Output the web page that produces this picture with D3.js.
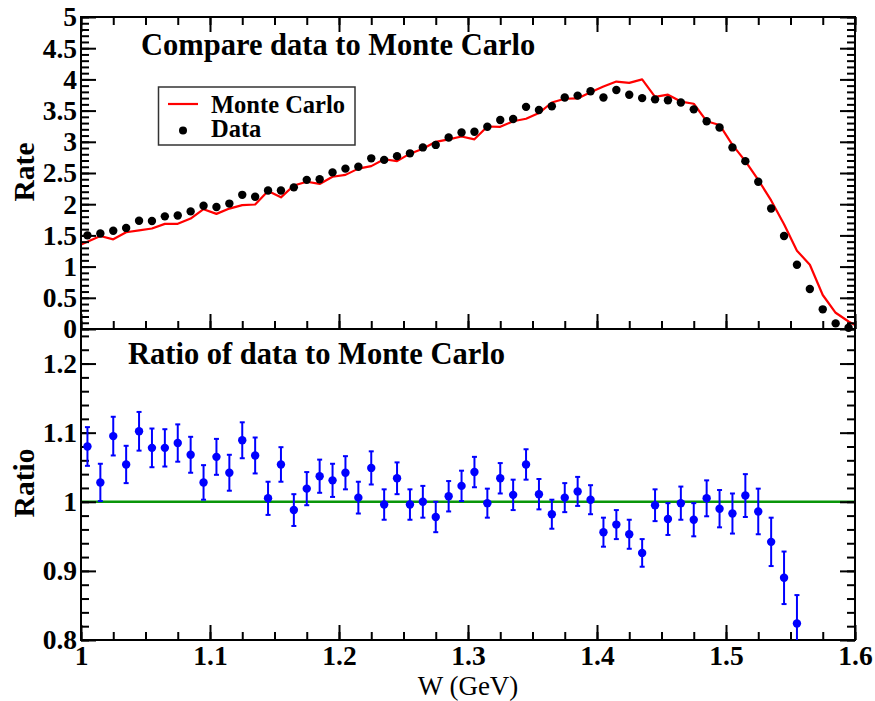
<!DOCTYPE html>
<html><head><meta charset="utf-8">
<script src="https://cdn.jsdelivr.net/npm/d3@7"></script>
<style>
body{margin:0;background:#fff}
svg{display:block}
text{font-family:"Liberation Serif","Times New Roman",serif}
</style>
</head><body>
<svg id="c" width="875" height="701"></svg>
<script>
// ---- data ----
const W = [1.005,1.015,1.025,1.035,1.045,1.055,1.065,1.075,1.085,1.095,
           1.105,1.115,1.125,1.135,1.145,1.155,1.165,1.175,1.185,1.195,
           1.205,1.215,1.225,1.235,1.245,1.255,1.265,1.275,1.285,1.295,
           1.305,1.315,1.325,1.335,1.345,1.355,1.365,1.375,1.385,1.395,
           1.405,1.415,1.425,1.435,1.445,1.455,1.465,1.475,1.485,1.495,
           1.505,1.515,1.525,1.535,1.545,1.555,1.565,1.575,1.585,1.595];
const dataRate = [1.50,1.53,1.575,1.62,1.735,1.73,1.805,1.82,1.885,1.975,
                  1.955,2.01,2.15,2.12,2.22,2.22,2.27,2.39,2.40,2.51,
                  2.57,2.60,2.735,2.71,2.77,2.815,2.91,2.95,3.07,3.15,
                  3.16,3.24,3.35,3.365,3.56,3.51,3.57,3.71,3.74,3.81,
                  3.71,3.83,3.755,3.70,3.68,3.665,3.63,3.52,3.33,3.23,
                  2.91,2.69,2.36,1.93,1.49,1.03,0.64,0.315,0.09,0.02];
// Monte Carlo curve: bin centres plus one point beyond each edge (clipped)
const mcFirstW = 0.995, mcLastW = 1.605;
const mcRate = [1.31,
                1.40,1.49,1.437,1.55,1.58,1.61,1.685,1.685,1.77,1.92,
                1.845,1.93,1.985,1.995,2.21,2.11,2.30,2.36,2.325,2.44,
                2.47,2.57,2.61,2.72,2.69,2.81,2.89,3.00,3.04,3.085,
                3.04,3.245,3.24,3.33,3.37,3.46,3.63,3.69,3.695,3.795,
                3.885,3.965,3.945,4.00,3.72,3.755,3.645,3.61,3.33,3.27,
                2.95,2.69,2.39,2.06,1.68,1.255,1.03,0.545,0.26,0.12,
                0.01];
const ratio = [1.080,1.028,1.095,1.054,1.102,1.078,1.078,1.085,1.068,1.028,
               1.065,1.042,1.089,1.067,1.005,1.054,0.988,1.019,1.037,1.031,
               1.042,1.006,1.049,0.996,1.034,0.996,1.000,0.978,1.008,1.023,
               1.043,0.998,1.034,1.010,1.054,1.011,0.982,1.006,1.015,1.003,
               0.956,0.967,0.953,0.926,0.995,0.975,0.998,0.974,1.005,0.990,
               0.983,1.009,0.986,0.942,0.890,0.824];
const ratioErr = [0.028,0.027,0.028,0.027,0.028,0.028,0.027,0.027,0.026,0.025,
                  0.026,0.026,0.026,0.026,0.024,0.025,0.023,0.024,0.024,0.024,
                  0.024,0.023,0.024,0.022,0.023,0.022,0.023,0.022,0.022,0.022,
                  0.022,0.021,0.022,0.022,0.022,0.022,0.021,0.021,0.021,0.021,
                  0.021,0.021,0.021,0.020,0.023,0.023,0.024,0.024,0.026,0.027,
                  0.029,0.031,0.033,0.035,0.038,0.041];
const xTicks = [1,1.1,1.2,1.3,1.4,1.5,1.6];
const rateTicks = [0,0.5,1,1.5,2,2.5,3,3.5,4,4.5,5];
const ratioTicks = [0.8,0.9,1,1.1,1.2];

// ---- layout ----
const L=81, R=855, T1=17, B1=329, T2=329, B2=640;
const svg = d3.select('#c');
const x  = d3.scaleLinear().domain([1,1.6]).range([L,R]);
const y1 = d3.scaleLinear().domain([0,5]).range([B1,T1]);
const y2 = d3.scaleLinear().domain([0.8,1.25]).range([B2,T2]);

const defs = svg.append('defs');
defs.append('clipPath').attr('id','clip1').append('rect').attr('x',L).attr('y',T1).attr('width',R-L).attr('height',B1-T1);
defs.append('clipPath').attr('id','clip2').append('rect').attr('x',L).attr('y',T2).attr('width',R-L).attr('height',B2-T2);

const FONT = '"Liberation Serif","Times New Roman",serif';

// ---- top panel marks ----
const mcPts = [[mcFirstW, mcRate[0]]].concat(W.map((w,i)=>[w, mcRate[i+1]])).concat([[mcLastW, mcRate[mcRate.length-1]]]);
svg.append('path').attr('clip-path','url(#clip1)')
  .datum(mcPts)
  .attr('d', d3.line().x(d=>x(d[0])).y(d=>y1(d[1])))
  .attr('fill','none').attr('stroke','#ff0000').attr('stroke-width',2.2).attr('stroke-linejoin','round');

// ---- bottom panel reference line ----
svg.append('path').attr('clip-path','url(#clip2)')
  .datum([[1,1],[1.6,1]])
  .attr('d', d3.line().x(d=>x(d[0])).y(d=>y2(d[1])))
  .attr('stroke','#0a960a').attr('stroke-width',2.5).attr('fill','none');

// ---- axes ----
function drawAxis(orient, scale, pos, major, minor, labels){
  const make = {left:d3.axisLeft, right:d3.axisRight, top:d3.axisTop, bottom:d3.axisBottom}[orient];
  const tr = (orient==='left'||orient==='right') ? `translate(${pos},0)` : `translate(0,${pos})`;
  const gMin = svg.append('g').attr('transform',tr)
    .call(make(scale).tickValues(minor).tickSize(-8).tickSizeOuter(0).tickFormat(''));
  const gMaj = svg.append('g').attr('transform',tr)
    .call(make(scale).tickValues(major).tickSize(-15).tickSizeOuter(0).tickPadding(orient==='bottom'?5:4)
      .tickFormat(labels ? d3.format('~g') : ''));
  [gMin,gMaj].forEach(g=>{
    g.select('.domain').remove();
    g.selectAll('line').attr('stroke','#000').attr('stroke-width',2);
  });
  gMaj.attr('font-family',FONT);
  gMaj.selectAll('text').attr('font-size',27.5).attr('font-weight','bold').attr('fill','#000');
}
const minorRate = d3.range(0,5.001,0.1);
const minorX = d3.range(1,1.6001,0.025);
const minorRatio = d3.range(0.8,1.2501,0.02);
// top panel
drawAxis('left', y1, L, rateTicks, minorRate, true);
drawAxis('right', y1, R, rateTicks, minorRate, false);
drawAxis('top', x, T1, xTicks, minorX, false);
drawAxis('bottom', x, B1, xTicks, minorX, false);
// bottom panel
drawAxis('left', y2, L, ratioTicks, minorRatio, true);
drawAxis('right', y2, R, ratioTicks, minorRatio, false);
drawAxis('bottom', x, B2, xTicks, minorX, true);

// frames
svg.append('rect').attr('x',L).attr('y',T1).attr('width',R-L).attr('height',B1-T1)
  .attr('fill','none').attr('stroke','#000').attr('stroke-width',2);
svg.append('rect').attr('x',L).attr('y',T2).attr('width',R-L).attr('height',B2-T2)
  .attr('fill','none').attr('stroke','#000').attr('stroke-width',2);

// ---- data dots (top) ----
svg.append('g').selectAll('circle').data(W.map((w,i)=>({w, v:dataRate[i]}))).join('circle')
  .attr('cx',d=>x(d.w)).attr('cy',d=>y1(d.v)).attr('r',4.2).attr('fill','#000');

// ---- ratio points with error bars ----
const rp = ratio.map((r,i)=>({w:W[i], r, e:ratioErr[i]}));
const eg = svg.append('g').attr('clip-path','url(#clip2)');
eg.selectAll('line.err').data(rp).join('line').attr('class','err')
  .attr('x1',d=>x(d.w)).attr('x2',d=>x(d.w))
  .attr('y1',d=>y2(d.r-d.e)).attr('y2',d=>y2(d.r+d.e))
  .attr('stroke','#0000ff').attr('stroke-width',2);
eg.selectAll('line.capT').data(rp).join('line').attr('class','capT')
  .attr('x1',d=>x(d.w)-2.5).attr('x2',d=>x(d.w)+2.5)
  .attr('y1',d=>y2(d.r+d.e)).attr('y2',d=>y2(d.r+d.e))
  .attr('stroke','#0000ff').attr('stroke-width',2);
eg.selectAll('line.capB').data(rp).join('line').attr('class','capB')
  .attr('x1',d=>x(d.w)-2.5).attr('x2',d=>x(d.w)+2.5)
  .attr('y1',d=>y2(d.r-d.e)).attr('y2',d=>y2(d.r-d.e))
  .attr('stroke','#0000ff').attr('stroke-width',2);
eg.selectAll('circle').data(rp).join('circle')
  .attr('cx',d=>x(d.w)).attr('cy',d=>y2(d.r)).attr('r',4.2).attr('fill','#0000ff');

// ---- titles ----
svg.append('text').attr('x',141).attr('y',55).attr('font-size',30.5).attr('font-weight','bold')
  .text('Compare data to Monte Carlo');
svg.append('text').attr('x',128).attr('y',364).attr('font-size',30.5).attr('font-weight','bold')
  .text('Ratio of data to Monte Carlo');

// ---- legend ----
const lg = svg.append('g');
lg.append('rect').attr('x',158.5).attr('y',87).attr('width',196.5).attr('height',58)
  .attr('fill','#fff').attr('stroke','#333').attr('stroke-width',1.5);
lg.append('line').attr('x1',168).attr('x2',198).attr('y1',104).attr('y2',104)
  .attr('stroke','#ff0000').attr('stroke-width',2.2);
lg.append('circle').attr('cx',183).attr('cy',130.5).attr('r',4).attr('fill','#000');
lg.append('text').attr('x',211).attr('y',112.5).attr('font-size',24.5).attr('font-weight','bold').text('Monte Carlo');
lg.append('text').attr('x',211).attr('y',137).attr('font-size',24.5).attr('font-weight','bold').text('Data');

// ---- axis titles ----
svg.append('text').attr('transform','translate(34,172) rotate(-90)').attr('text-anchor','middle')
  .attr('font-size',29.5).attr('font-weight','bold').text('Rate');
svg.append('text').attr('transform','translate(34,483) rotate(-90)').attr('text-anchor','middle')
  .attr('font-size',29.5).attr('font-weight','bold').text('Ratio');
svg.append('text').attr('x',468).attr('y',695).attr('text-anchor','middle')
  .attr('font-size',27).text('W (GeV)');
</script>
</body></html>
